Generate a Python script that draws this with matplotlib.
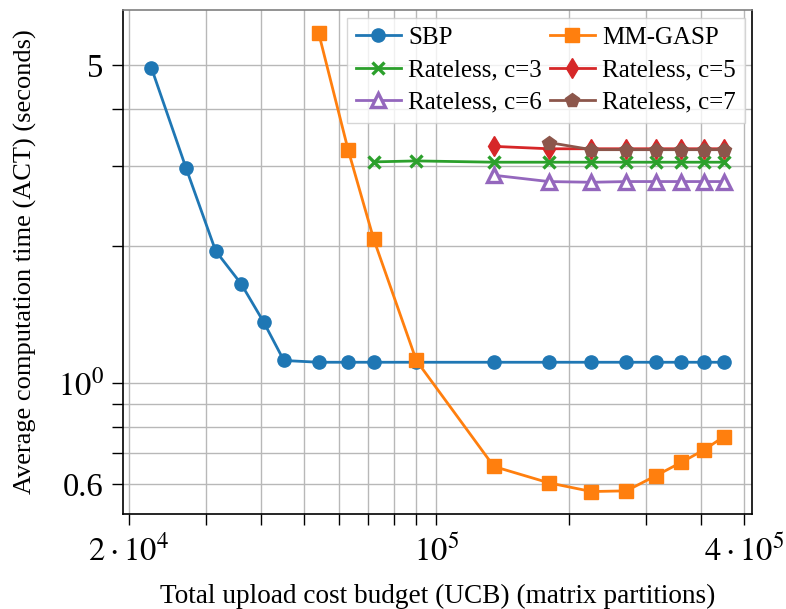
import matplotlib
matplotlib.use("Agg")
import matplotlib.pyplot as plt
from matplotlib.ticker import FixedLocator, NullFormatter

plt.rcParams['font.family'] = ['Liberation Serif', 'DejaVu Serif']
plt.rcParams['mathtext.fontset'] = 'stix'

# ---- data ----
ucb = [22500, 27000, 31500, 36000, 40500, 45000, 54000, 63000, 72000,
       90000, 135000, 180000, 225000, 270000, 315000, 360000, 405000, 450000]
sbp = [4.93, 2.96, 1.95, 1.65, 1.36, 1.12, 1.11, 1.11, 1.11,
       1.11, 1.11, 1.11, 1.11, 1.11, 1.11, 1.11, 1.11, 1.11]

mm_ucb = [54000, 63000, 72000, 90000, 135000, 180000, 225000, 270000,
          315000, 360000, 405000, 450000]
mm_gasp = [5.87, 3.25, 2.07, 1.12, 0.655, 0.603, 0.577, 0.579,
           0.625, 0.669, 0.712, 0.762]

c3_ucb = [72000, 90000, 135000, 180000, 225000, 270000, 315000, 360000, 405000, 450000]
c3 = [3.06, 3.075, 3.055, 3.055, 3.055, 3.055, 3.055, 3.055, 3.055, 3.055]

c5_ucb = [135000, 180000, 225000, 270000, 315000, 360000, 405000, 450000]
c5 = [3.31, 3.27, 3.27, 3.27, 3.27, 3.27, 3.27, 3.27]

c6_ucb = [135000, 180000, 225000, 270000, 315000, 360000, 405000, 450000]
c6 = [2.86, 2.77, 2.76, 2.77, 2.77, 2.77, 2.77, 2.77]

c7_ucb = [180000, 225000, 270000, 315000, 360000, 405000, 450000]
c7 = [3.375, 3.255, 3.255, 3.255, 3.255, 3.255, 3.255]

xtick_vals = [2e4, 1e5, 5e5]
xtick_labels = [r'$2\cdot10^4$', r'$10^5$', r'$4\cdot10^5$']
xminor_vals = [3e4, 4e4, 5e4, 6e4, 7e4, 8e4, 9e4, 2e5, 3e5, 4e5]
ytick_vals = [0.6, 1.0, 5.0]
ytick_labels = ['0.6', r'$10^0$', '5']
yminor_vals = [0.7, 0.8, 0.9, 2, 3, 4]

# ---- figure ----
fig = plt.figure(figsize=(7.86, 6.09), dpi=100)
ax = fig.add_axes([123/786, 1-514/609, 629/786, 504/609])
ax.set_xscale('log')
ax.set_yscale('log')

lw = 2.0
h_sbp, = ax.plot(ucb, sbp, color='#1f77b4', marker='o', ms=9.5, lw=lw, label='SBP')
h_mm, = ax.plot(mm_ucb, mm_gasp, color='#ff7f0e', marker='s', ms=9.5, lw=lw, label='MM-GASP')
h_c3, = ax.plot(c3_ucb, c3, color='#2ca02c', marker='x', ms=8.5, mew=2.4, lw=lw, label='Rateless, c=3')
h_c5, = ax.plot(c5_ucb, c5, color='#d62728', marker='d', ms=10, lw=lw, label='Rateless, c=5')
h_c6, = ax.plot(c6_ucb, c6, color='#9467bd', marker='^', ms=10, mew=2.4, mfc='white', lw=lw, label='Rateless, c=6')
h_c7, = ax.plot(c7_ucb, c7, color='#8c564b', marker='p', ms=10.5, lw=lw, label='Rateless, c=7')

ax.set_xlim(1.94e4, 5.21e5)
ax.set_ylim(0.515, 6.6)

ax.xaxis.set_major_locator(FixedLocator(xtick_vals))
ax.set_xticklabels(xtick_labels)
ax.xaxis.set_minor_locator(FixedLocator(xminor_vals))
ax.xaxis.set_minor_formatter(NullFormatter())
ax.yaxis.set_major_locator(FixedLocator(ytick_vals))
ax.set_yticklabels(ytick_labels)
ax.yaxis.set_minor_locator(FixedLocator(yminor_vals))
ax.yaxis.set_minor_formatter(NullFormatter())

ax.tick_params(which='both', direction='out', length=8, width=1, color='black')
ax.tick_params(axis='both', which='major', labelsize=23.5)
ax.tick_params(axis='x', which='major', pad=7)
ax.tick_params(axis='y', which='major', pad=6)
ax.tick_params(top=False, right=False, which='both')

ax.grid(True, which='both', color='#b8b8b8', lw=1.0)
ax.set_axisbelow(True)
for s in ['left', 'bottom', 'right']:
    ax.spines[s].set_color('black')
    ax.spines[s].set_linewidth(1.2)
ax.spines['top'].set_color('#808080')
ax.spines['top'].set_linewidth(1.2)

ax.set_xlabel('Total upload cost budget (UCB) (matrix partitions)', fontsize=19.6)
ax.set_ylabel('Average computation time (ACT) (seconds)', fontsize=19)
ax.xaxis.set_label_coords(0.5, -0.138)
ax.yaxis.set_label_coords(-0.137, 0.5)

leg = ax.legend(handles=[h_sbp, h_c3, h_c6, h_mm, h_c5, h_c7], ncol=2,
                loc='upper right', fontsize=18, fancybox=False, edgecolor='#cccccc',
                framealpha=0.8, borderaxespad=0.3, columnspacing=0.3,
                handletextpad=0.3, labelspacing=0.4, handlelength=1.8,
                borderpad=0.35)
leg.get_frame().set_linewidth(1.0)

fig.savefig('out.png', dpi=100)
